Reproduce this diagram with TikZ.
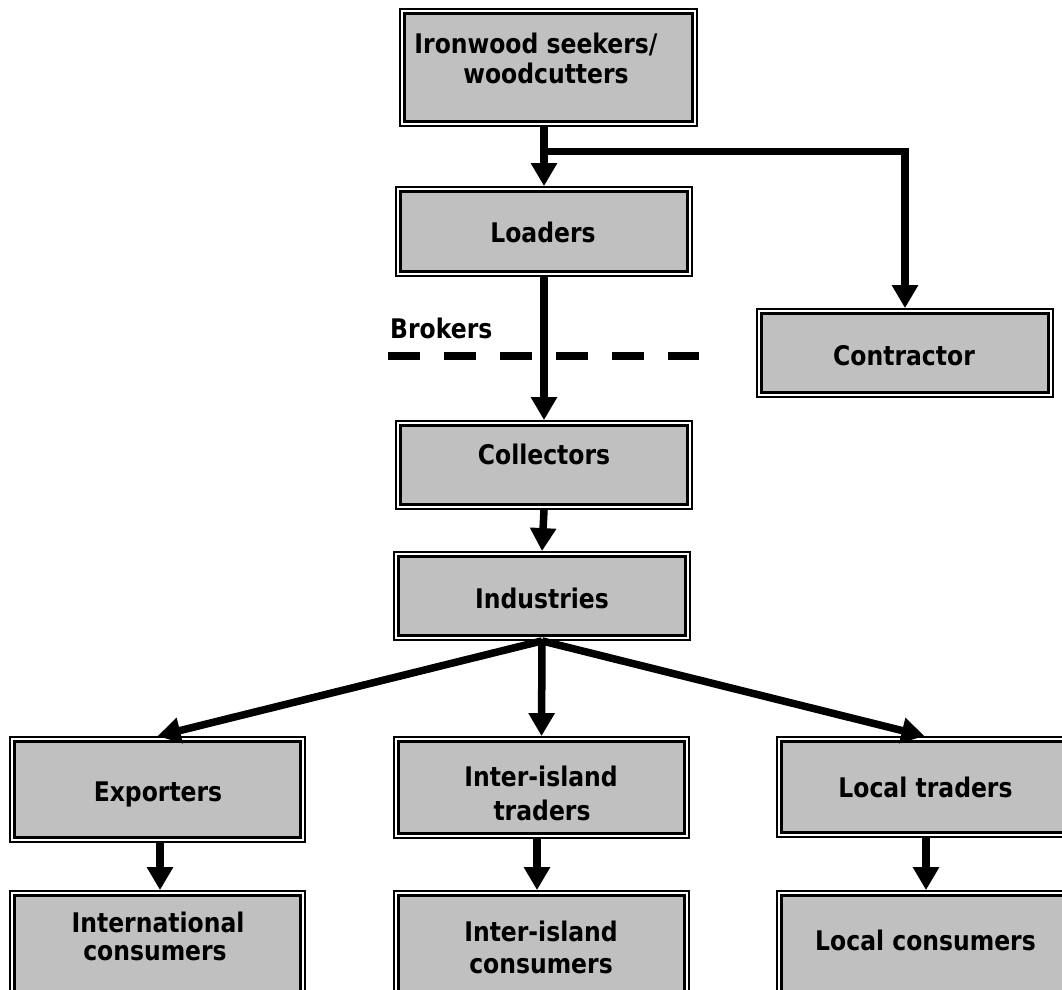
\documentclass[tikz,border=0pt]{standalone}
\usepackage{fontspec}
\newfontfamily\boxfont{DejaVu Sans}[FakeStretch=0.87]
\usetikzlibrary{arrows.meta}
\definecolor{boxgray}{HTML}{C0C0C0}

\tikzset{
  box/.style={draw=black, line width=1.8pt, fill=white,
    minimum width=296pt, minimum height=88pt, inner sep=0pt,
    path picture={\draw[line width=3.5pt, fill=boxgray]
      ([shift={(4.3pt,-4.3pt)}]path picture bounding box.north west) rectangle
      ([shift={(-4.3pt,4.3pt)}]path picture bounding box.south east);}},
  txt/.style={anchor=base, inner sep=0pt,
    font=\boxfont\bfseries\fontsize{27}{32}\selectfont},
  arr/.style={line width=7.5pt, line join=miter,
    -{Triangle[length=23pt, width=25pt]}},
  brokerline/.style={line width=8.3pt, dash pattern=on 31.5pt off 24.5pt}
}

\begin{document}
\begin{tikzpicture}[x=1pt, y=-1pt]
  \useasboundingbox (0,0) rectangle (1062,989);
  \clip (0,0) rectangle (1062,989);

  % boxes
  \node[box, minimum width=297pt, minimum height=117pt] (iron)  at (548.5,67.5) {};
  \node[box, minimum height=89pt]  (load)  at (544,231.5) {};
  \node[box]                       (contr) at (905,353)   {};
  \node[box]                       (coll)  at (544,465)   {};
  \node[box]                       (ind)   at (542,596)   {};
  \node[box, minimum width=295pt, minimum height=105pt] (exp)   at (157.5,789.5) {};
  \node[box, minimum width=295pt, minimum height=101pt] (inter) at (541.5,787.5) {};
  \node[box, minimum width=295pt, minimum height=100pt] (local) at (924.5,787)   {};
  \node[box, minimum width=295pt, minimum height=110pt] (intc)  at (157.5,946)   {};
  \node[box, minimum width=295pt, minimum height=110pt] (iic)   at (541.5,946)   {};
  \node[box, minimum width=295pt, minimum height=110pt] (locc)  at (924.5,946)   {};

  % box texts
  \node[txt] (iron-a)  at (536,53)    {Ironwood seekers/};
  \node[txt] (iron-b)  at (546,83)    {woodcutters};
  \node[txt] (load-t)  at (543,242.7) {Loaders};
  \node[txt] (contr-t) at (904,365)   {Contractor};
  \node[txt] (coll-t)  at (544,464)   {Collectors};
  \node[txt] (ind-t)   at (542,608.3) {Industries};
  \node[txt] (exp-t)   at (158,801.7) {Exporters};
  \node[txt] (inter-a) at (541,786.7) {Inter-island};
  \node[txt] (inter-b) at (542,820)   {traders};
  \node[txt] (local-t) at (925.5,797.3) {Local traders};
  \node[txt] (intc-a)  at (158,932)   {International};
  \node[txt] (intc-b)  at (155,960)   {consumers};
  \node[txt] (iic-a)   at (541,941.7) {Inter-island};
  \node[txt] (iic-b)   at (541,973.3) {consumers};
  \node[txt] (locc-t)  at (925.5,950) {Local consumers};

  % brokers boundary
  \node[txt, anchor=base west] (brok) at (390,338) {Brokers};
  \coordinate (dashL) at (388,355.7);
  \coordinate (dashR) at (699,355.7);
  \draw[brokerline] (dashL) -- (dashR);

  % flows
  \coordinate (split) at (544,151.7);
  \draw[arr] (iron.south -| load.north) -- (load.north);
  \draw[arr] (split) -| (contr.north);
  \draw[arr] (load.south) -- (coll.north);
  \draw[arr] (coll.south) -- (ind.north);
  \draw[arr] (ind.south) -- (exp.north);
  \draw[arr] (ind.south) -- (inter.north);
  \draw[arr] (ind.south) -- (local.north);
  \draw[arr] (exp.south -| 160,0) -- (intc.north -| 160,0);
  \draw[arr] (inter.south -| 537,0) -- (iic.north -| 537,0);
  \draw[arr] (local.south -| 926,0) -- (locc.north -| 926,0);
\end{tikzpicture}
\end{document}
